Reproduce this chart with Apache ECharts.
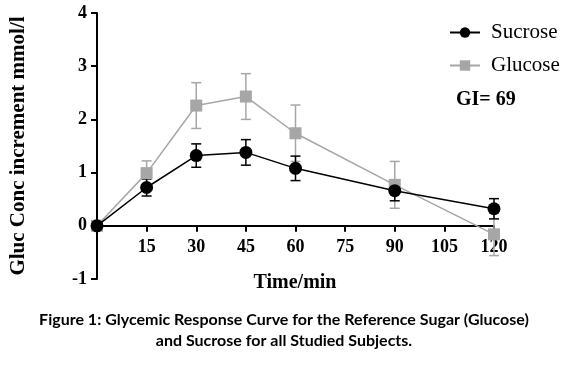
<!DOCTYPE html>
<html>
<head>
<meta charset="utf-8">
<script src="https://cdn.jsdelivr.net/npm/echarts@6/dist/echarts.min.js"></script>
<style>html,body{margin:0;padding:0;background:#fff;}#c{width:569px;height:367px;}</style>
</head>
<body>
<div id="c"></div>
<script>
var times = [0, 15, 30, 45, 60, 90, 120];
var sucrose = [0, 0.72, 1.32, 1.38, 1.08, 0.66, 0.32];
var sucroseErr = [0, 0.16, 0.22, 0.24, 0.23, 0.19, 0.19];
var glucose = [0, 0.99, 2.26, 2.43, 1.74, 0.77, -0.16];
var glucoseErr = [0, 0.23, 0.43, 0.43, 0.53, 0.44, 0.40];
var xTicks = [0, 15, 30, 45, 60, 75, 90, 105, 120];
var yTicks = [-1, 0, 1, 2, 3, 4];

var serif = 'Liberation Serif, Times New Roman, serif';
var grey = '#a6a6a6';

function pairs(vals) { return times.map(function (t, i) { return [t, vals[i]]; }); }
function errData(vals, errs) { return times.map(function (t, i) { return [t, vals[i] - errs[i], vals[i] + errs[i]]; }); }
function errRender(color) {
  return function (params, api) {
    var x = api.value(0);
    var lo = api.coord([x, api.value(1)]);
    var hi = api.coord([x, api.value(2)]);
    var w = 5;
    var st = { stroke: color, lineWidth: 1.5 };
    return { type: 'group', children: [
      { type: 'line', shape: { x1: lo[0], y1: lo[1], x2: hi[0], y2: hi[1] }, style: st },
      { type: 'line', shape: { x1: lo[0] - w, y1: lo[1], x2: lo[0] + w, y2: lo[1] }, style: st },
      { type: 'line', shape: { x1: hi[0] - w, y1: hi[1], x2: hi[0] + w, y2: hi[1] }, style: st }
    ]};
  };
}

var chart = echarts.init(document.getElementById('c'));
chart.setOption({
  animation: false,
  backgroundColor: '#fff',
  grid: { left: 94, right: 75, top: 13, bottom: 88 },
  xAxis: {
    type: 'value', min: xTicks[0], max: xTicks[xTicks.length - 1], interval: 15,
    axisLine: { onZero: true, lineStyle: { color: '#000', width: 2 } },
    axisTick: { length: 6, lineStyle: { color: '#000', width: 2 } },
    axisLabel: { margin: -41, color: '#000', fontFamily: serif, fontWeight: 'bold', fontSize: 18,
      formatter: function (v) { return v === 0 ? '' : String(v); } },
    splitLine: { show: false }
  },
  yAxis: {
    type: 'value', min: yTicks[0], max: yTicks[yTicks.length - 1], interval: 1,
    name: 'Gluc Conc increment mmol/l', nameLocation: 'middle', nameGap: 68,
    nameTextStyle: { color: '#000', fontFamily: serif, fontWeight: 'bold', fontSize: 21 },
    axisLine: { show: true, lineStyle: { color: '#000', width: 2 } },
    axisTick: { show: true, length: 6, lineStyle: { color: '#000', width: 2 } },
    axisLabel: { margin: 10, color: '#000', fontFamily: serif, fontWeight: 'bold', fontSize: 18 },
    splitLine: { show: false }
  },
  legend: {
    orient: 'vertical', left: 444, top: 17, itemWidth: 30, itemHeight: 13, itemGap: 12,
    data: ['Sucrose', 'Glucose'],
    textStyle: { color: '#000', fontFamily: serif, fontSize: 21, padding: [0, 0, 0, 6] }
  },
  graphic: [
    { type: 'text', left: 456, top: 90, style: { text: 'GI= 69', fill: '#000', font: 'bold 20px ' + serif } },
    { type: 'text', x: 295, y: 283, style: { text: 'Time/min', fill: '#000', font: 'bold 20px ' + serif, align: 'center', verticalAlign: 'middle' } },
    { type: 'text', x: 284, y: 320, style: { text: 'Figure 1: Glycemic Response Curve for the Reference Sugar (Glucose)', fill: '#000', font: 'bold 16px Lato, sans-serif', align: 'center', verticalAlign: 'middle' } },
    { type: 'text', x: 284, y: 341, style: { text: 'and Sucrose for all Studied Subjects.', fill: '#000', font: 'bold 16px Lato, sans-serif', align: 'center', verticalAlign: 'middle' } }
  ],
  series: [
    { type: 'custom', name: 'gErr', renderItem: errRender(grey), data: errData(glucose, glucoseErr), z: 1, silent: true },
    { type: 'custom', name: 'sErr', renderItem: errRender('#000'), data: errData(sucrose, sucroseErr), z: 1, silent: true },
    { type: 'line', name: 'Glucose', data: pairs(glucose), symbol: 'rect', symbolSize: 12, z: 2,
      lineStyle: { color: grey, width: 1.5 }, itemStyle: { color: grey } },
    { type: 'line', name: 'Sucrose', data: pairs(sucrose), symbol: 'circle', symbolSize: 13, z: 3,
      lineStyle: { color: '#000', width: 1.5 }, itemStyle: { color: '#000' } }
  ]
});
</script>
</body>
</html>
